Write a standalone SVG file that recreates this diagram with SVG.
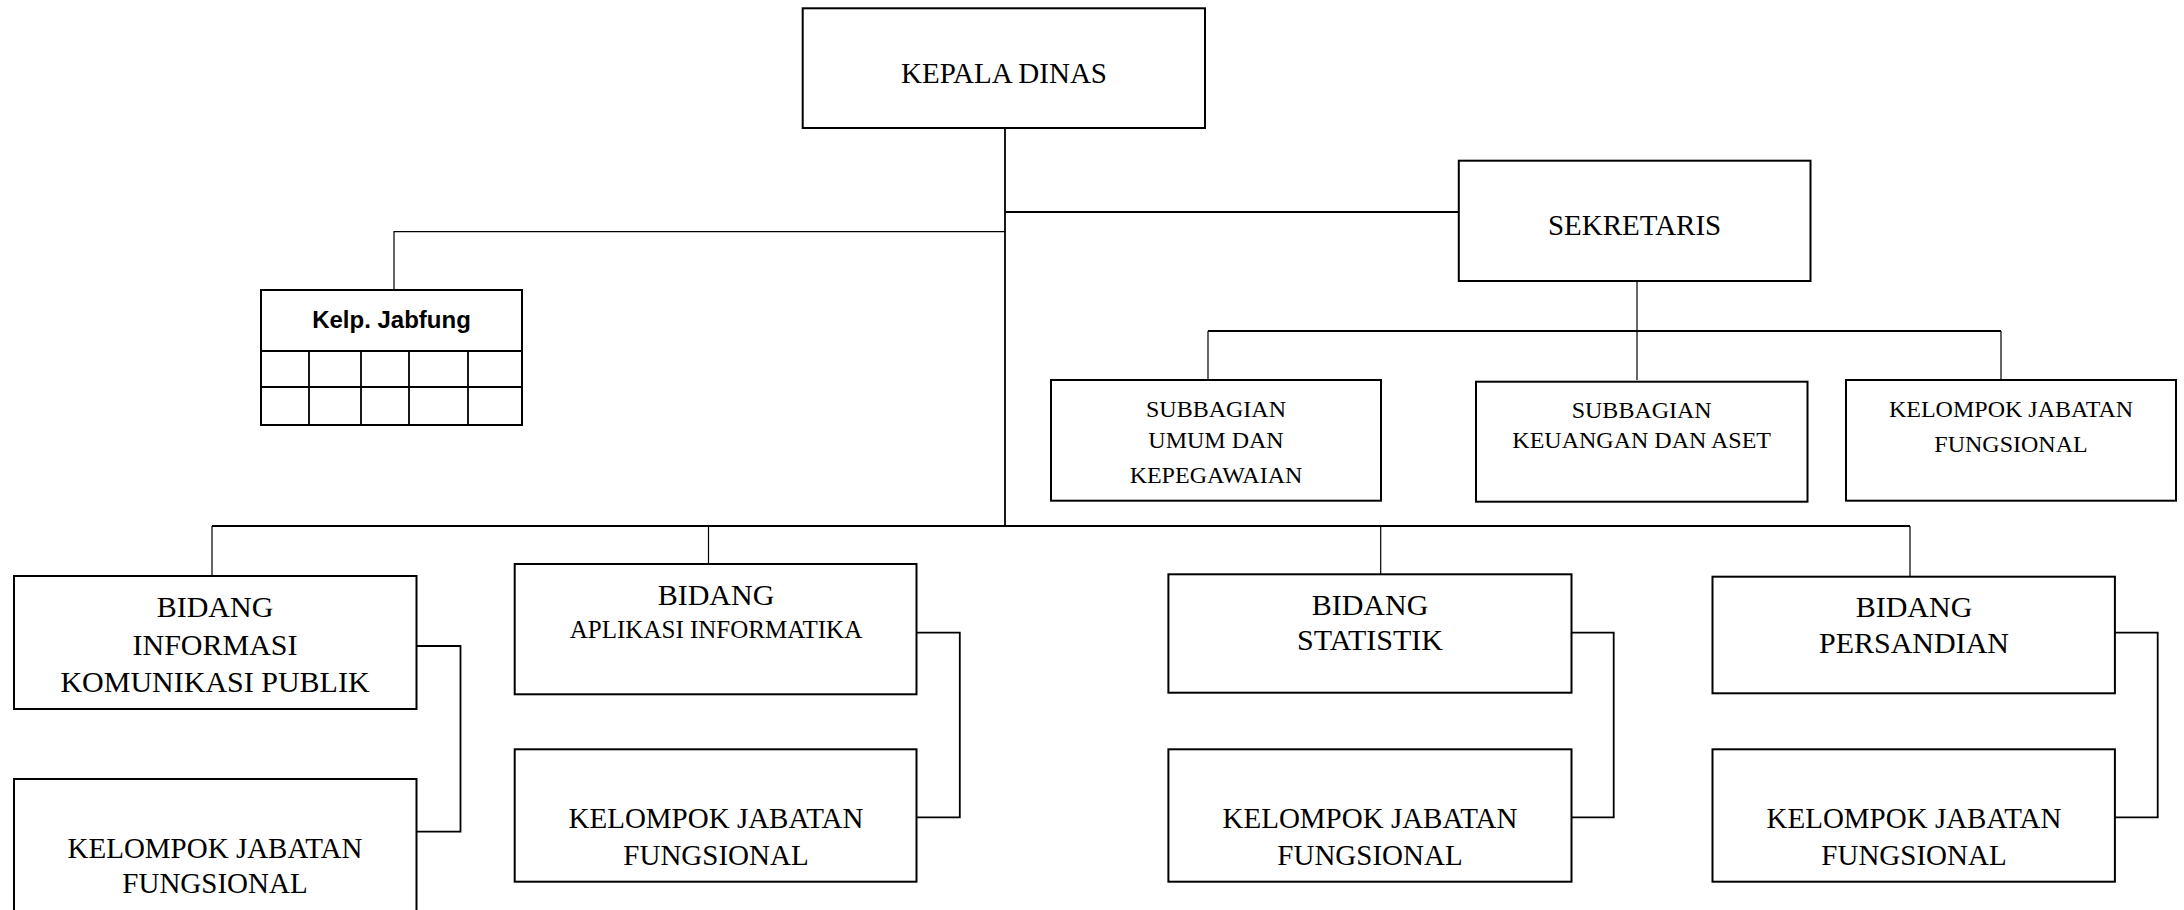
<svg xmlns="http://www.w3.org/2000/svg" width="2184" height="910" viewBox="0 0 2184 910">
<style>
.box{fill:#fff;stroke:#000;stroke-width:2}
.ln{fill:none;stroke:#000;stroke-width:1.8}
.th{fill:none;stroke:#000;stroke-width:1.2}
text{font-family:"Liberation Serif","Times New Roman",serif;fill:#000;text-anchor:middle}
.t29{font-size:29px}
.t30{font-size:30px}
.t24{font-size:24px}
.t25{font-size:25px}
.kb{font-family:"Liberation Sans",Arial,sans-serif;font-weight:bold;font-size:24px}
</style>
<rect width="2184" height="910" fill="#fff"/>
<g id="connectors">
<path class="ln" d="M1005 128V526"/>
<path class="ln" d="M1005 212H1459"/>
<path class="th" d="M1005 231.7H394V290"/>
<path class="th" d="M1637 281V380"/>
<path class="ln" d="M1208 331H2001"/>
<path class="th" d="M1208 331V380M2001 331V380"/>
<path class="ln" d="M212 526H1910"/>
<path class="th" d="M212 526V576M708.5 526V564M1380.7 526V574.3M1910 526V576.7"/>
<path class="ln" d="M416.5 646H460.5V831.7H416.5"/>
<path class="ln" d="M916.5 632.7H959.8V817.3H916.5"/>
<path class="ln" d="M1571.5 632.7H1613.7V817.3H1571.5"/>
<path class="ln" d="M2114.9 632.7H2157.7V817.3H2114.9"/>
</g>
<g id="kepala">
<rect class="box" x="802.7" y="8.3" width="402.3" height="119.7"/>
<text class="t29" x="1004" y="83">KEPALA DINAS</text>
</g>
<g id="kelp-jabfung">
<rect class="box" x="261" y="290" width="261" height="135"/>
<path class="ln" d="M261 351H522M261 387H522M309 351V425M361 351V425M409 351V425M468 351V425"/>
<text class="kb" x="391.5" y="328">Kelp. Jabfung</text>
</g>
<g id="sekretaris">
<rect class="box" x="1458.8" y="160.7" width="351.7" height="120.3"/>
<text class="t29" x="1634.6" y="235">SEKRETARIS</text>
</g>
<g id="subbagian-umum">
<rect class="box" x="1051" y="380" width="330" height="120.7"/>
<text class="t24" x="1216" y="417">SUBBAGIAN</text>
<text class="t24" x="1216" y="447.7">UMUM DAN</text>
<text class="t24" x="1216" y="483">KEPEGAWAIAN</text>
</g>
<g id="subbagian-keuangan">
<rect class="box" x="1476" y="381.7" width="331.5" height="120"/>
<text class="t24" x="1641.7" y="417.7">SUBBAGIAN</text>
<text class="t24" x="1641.7" y="448.3">KEUANGAN DAN ASET</text>
</g>
<g id="kjf-sekretariat">
<rect class="box" x="1846" y="380" width="330" height="120.7"/>
<text class="t24" x="2011" y="416.7">KELOMPOK JABATAN</text>
<text class="t24" x="2011" y="451.7">FUNGSIONAL</text>
</g>
<g id="bidang-ikp">
<rect class="box" x="14" y="576" width="402.5" height="133"/>
<text class="t30" x="215" y="617.3">BIDANG</text>
<text class="t30" x="215" y="655">INFORMASI</text>
<text class="t30" x="215" y="691.7">KOMUNIKASI PUBLIK</text>
</g>
<g id="kjf-ikp">
<rect class="box" x="14" y="779" width="402.5" height="140"/>
<text class="t29" x="215" y="858">KELOMPOK JABATAN</text>
<text class="t29" x="215" y="893">FUNGSIONAL</text>
</g>
<g id="bidang-aplikasi">
<rect class="box" x="514.7" y="564" width="401.8" height="130.3"/>
<text class="t30" x="716" y="605">BIDANG</text>
<text class="t25" x="716" y="637.7">APLIKASI INFORMATIKA</text>
</g>
<g id="kjf-aplikasi">
<rect class="box" x="514.7" y="749.3" width="401.8" height="132.4"/>
<text class="t29" x="716" y="828.3">KELOMPOK JABATAN</text>
<text class="t29" x="716" y="865">FUNGSIONAL</text>
</g>
<g id="bidang-statistik">
<rect class="box" x="1168.4" y="574.3" width="403.1" height="118.4"/>
<text class="t30" x="1370" y="615">BIDANG</text>
<text class="t30" x="1370" y="650">STATISTIK</text>
</g>
<g id="kjf-statistik">
<rect class="box" x="1168.4" y="749.3" width="403.1" height="132.4"/>
<text class="t29" x="1370" y="828.3">KELOMPOK JABATAN</text>
<text class="t29" x="1370" y="865">FUNGSIONAL</text>
</g>
<g id="bidang-persandian">
<rect class="box" x="1712.5" y="576.7" width="402.4" height="116.6"/>
<text class="t30" x="1914" y="617.3">BIDANG</text>
<text class="t30" x="1914" y="652.7">PERSANDIAN</text>
</g>
<g id="kjf-persandian">
<rect class="box" x="1712.5" y="749.3" width="402.4" height="132.4"/>
<text class="t29" x="1914" y="828.3">KELOMPOK JABATAN</text>
<text class="t29" x="1914" y="865">FUNGSIONAL</text>
</g>
</svg>
